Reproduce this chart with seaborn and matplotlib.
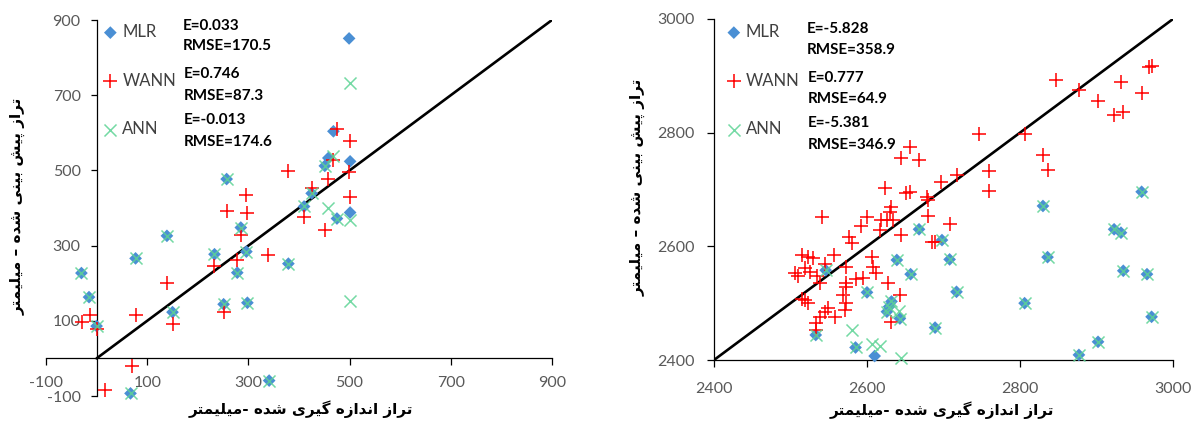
import matplotlib
matplotlib.use("Agg")
import matplotlib.pyplot as plt
import seaborn as sns
import pandas as pd

# ---------------- data ----------------
models = ["MLR", "WANN", "ANN"]

# left panel (measured, predicted)
left_mlr_x = [-30, -15, 0, 77, 139, 150, 257, 233, 251, 67, 278, 285, 296, 298, 341, 379, 410, 425, 451, 475,
              499, 468, 458, 501, 501]
left_mlr_y = [227, 163, 86, 266, 326, 123, 477, 277, 144, -93, 228, 348, 284, 148, -59, 252, 404, 439, 512, 372,
              851, 604, 533, 524, 388]
left_ann_x = [-30, -15, 0, 77, 139, 150, 257, 233, 251, 67, 278, 285, 296, 298, 341, 379, 410, 425, 451, 475,
              500, 468, 458, 501, 501]
left_ann_y = [227, 163, 86, 266, 326, 123, 477, 277, 144, -93, 228, 348, 284, 148, -59, 252, 404, 439, 512, 372,
              733, 539, 399, 368, 152]
left_wann_x = [-28, -14, 1, 77, 139, 150, 69, 16, 233, 257, 252, 277, 475, 501, 468, 498, 379, 458, 295, 425,
               501, 298, 410, 451, 285, 339]
left_wann_y = [97, 115, 79, 116, 201, 91, -19, -85, 247, 393, 123, 262, 610, 577, 528, 497, 499, 477, 435, 452,
               428, 388, 377, 341, 328, 275]

# right panel
right_mlr_x = [2959, 2830, 2923, 2932, 2698, 2708, 2836, 2935, 2966, 2717, 2806, 2972, 2902, 2877, 2668, 2639,
               2657, 2632, 2629, 2626, 2643, 2689, 2546, 2600, 2533, 2585, 2610]
right_mlr_y = [2696, 2671, 2630, 2624, 2611, 2577, 2581, 2557, 2551, 2520, 2500, 2476, 2432, 2409, 2630, 2576,
               2551, 2503, 2494, 2485, 2473, 2457, 2558, 2519, 2444, 2422, 2407]
right_ann_x = [2959, 2830, 2923, 2932, 2698, 2708, 2836, 2935, 2966, 2717, 2806, 2972, 2902, 2877, 2668, 2639,
               2657, 2632, 2629, 2626, 2643, 2689, 2546, 2600, 2533, 2585, 2580, 2607, 2617, 2644, 2642]
right_ann_y = [2696, 2671, 2630, 2624, 2611, 2577, 2581, 2557, 2551, 2520, 2500, 2476, 2432, 2409, 2630, 2576,
               2551, 2503, 2494, 2485, 2473, 2457, 2558, 2519, 2444, 2422, 2453, 2428, 2425, 2403, 2487]
right_wann_x = [2968, 2973, 2847, 2877, 2932, 2959, 2902, 2923, 2935, 2746, 2806, 2830, 2836, 2759, 2759, 2717,
                2697, 2708, 2680, 2645, 2685, 2689, 2628, 2643, 2632, 2656, 2644, 2668, 2624, 2656, 2651, 2678,
                2680, 2541, 2632, 2630, 2634, 2626, 2618, 2600, 2592, 2617, 2577, 2581, 2557, 2515, 2523, 2530,
                2545, 2573, 2606, 2608, 2612, 2506, 2510, 2519, 2525, 2534, 2539, 2572, 2573, 2585, 2595, 2515,
                2519, 2523, 2569, 2572, 2571, 2549, 2545, 2558, 2539, 2533, 2533]
right_wann_y = [2916, 2917, 2893, 2875, 2889, 2870, 2856, 2831, 2837, 2798, 2798, 2760, 2735, 2733, 2698, 2725,
                2714, 2640, 2653, 2620, 2608, 2608, 2535, 2514, 2467, 2775, 2755, 2752, 2702, 2696, 2693, 2687,
                2682, 2652, 2669, 2661, 2646, 2646, 2646, 2652, 2635, 2629, 2617, 2605, 2585, 2585, 2582, 2579,
                2569, 2563, 2581, 2564, 2553, 2553, 2547, 2561, 2555, 2547, 2536, 2536, 2529, 2542, 2544, 2508,
                2506, 2500, 2514, 2500, 2488, 2491, 2485, 2476, 2476, 2465, 2453]

left_stats_e = ["E=0.033", "E=0.746", "E=-0.013"]
left_stats_rmse = ["RMSE=170.5", "RMSE=87.3", "RMSE=174.6"]
right_stats_e = ["E=-5.828", "E=0.777", "E=-5.381"]
right_stats_rmse = ["RMSE=358.9", "RMSE=64.9", "RMSE=346.9"]

left_ticks = [-100, 100, 300, 500, 700, 900]
right_ticks = [2400, 2600, 2800, 3000]
left_line = [0, 900]
right_line = [2400, 3000]

ylabel_text = "تراز پیش بینی شده – میلیمتر"
xlabel_text = "تراز اندازه گیری شده -میلیمتر"

# ---------------- simple Arabic/Persian shaping ----------------
FORMS = {
    "\u0627": ("\uFE8D", "\uFE8E", None, None),
    "\u0628": ("\uFE8F", "\uFE90", "\uFE91", "\uFE92"),
    "\u062A": ("\uFE95", "\uFE96", "\uFE97", "\uFE98"),
    "\u062F": ("\uFEA9", "\uFEAA", None, None),
    "\u0631": ("\uFEAD", "\uFEAE", None, None),
    "\u0632": ("\uFEAF", "\uFEB0", None, None),
    "\u0634": ("\uFEB5", "\uFEB6", "\uFEB7", "\uFEB8"),
    "\u0644": ("\uFEDD", "\uFEDE", "\uFEDF", "\uFEE0"),
    "\u0645": ("\uFEE1", "\uFEE2", "\uFEE3", "\uFEE4"),
    "\u0646": ("\uFEE5", "\uFEE6", "\uFEE7", "\uFEE8"),
    "\u0647": ("\uFEE9", "\uFEEA", "\uFEEB", "\uFEEC"),
    "\u067E": ("\uFB56", "\uFB57", "\uFB58", "\uFB59"),
    "\u06AF": ("\uFB92", "\uFB93", "\uFB94", "\uFB95"),
    "\u06CC": ("\uFBFC", "\uFBFD", "\uFBFE", "\uFBFF"),
}


def shape(text):
    chars = list(text)
    out = []
    for i, c in enumerate(chars):
        if c not in FORMS:
            out.append(c)
            continue
        iso, fin, ini, med = FORMS[c]
        prev = chars[i - 1] if i > 0 else None
        nxt = chars[i + 1] if i + 1 < len(chars) else None
        jp = prev in FORMS and FORMS[prev][2] is not None
        jn = ini is not None and nxt in FORMS
        if jp and jn:
            out.append(med)
        elif jp:
            out.append(fin)
        elif jn:
            out.append(ini)
        else:
            out.append(iso)
    return "".join(reversed(out))


# ---------------- style ----------------
sns.set_theme(style="white")
plt.rcParams["font.family"] = ["Lato", "DejaVu Sans"]
plt.rcParams["axes.unicode_minus"] = False

W, H = 1193, 423
fig = plt.figure(figsize=(W / 100, H / 100), dpi=100)
fig.patch.set_facecolor("white")


def fx(px):
    return px / W


def fy(py):
    return 1 - py / H


colors = {"MLR": "#4A8FD4", "WANN": "#FF0000", "ANN": "#5CD394"}
tick_color = "#595959"


def draw_points(ax, mx, my, wx, wy, ax_x, ax_y):
    sns.scatterplot(x=mx, y=my, marker="D", color=colors["MLR"], s=42, edgecolor="none",
                    ax=ax, label="MLR", zorder=3, clip_on=False)
    sns.scatterplot(x=wx, y=wy, marker="+", color=colors["WANN"], s=90, linewidth=1.1,
                    ax=ax, label="WANN", zorder=4, clip_on=False)
    sns.scatterplot(x=ax_x, y=ax_y, marker="x", color=colors["ANN"], s=75, linewidth=1.1,
                    ax=ax, label="ANN", zorder=5, alpha=0.85, clip_on=False)


# ---------------- left panel ----------------
axL = fig.add_axes([fx(46), fy(396), fx(552) - fx(46), fy(20) - fy(396)])
draw_points(axL, left_mlr_x, left_mlr_y, left_wann_x, left_wann_y, left_ann_x, left_ann_y)
axL.plot(left_line, left_line, color="black", lw=1.9, zorder=2)
axL.set_xlim(-100, 900)
axL.set_ylim(-100, 900)
axL.set_xticks(left_ticks)
axL.set_yticks(left_ticks)
for s in ["top", "right"]:
    axL.spines[s].set_visible(False)
axL.spines["left"].set_position(("data", 0))
axL.spines["bottom"].set_position(("data", 0))
for s in ["left", "bottom"]:
    axL.spines[s].set_color("black")
    axL.spines[s].set_linewidth(0.9)
axL.tick_params(axis="y", direction="out", length=4.5, width=0.9, color="black",
                labelcolor=tick_color, labelsize=11.5, pad=7, left=True)
axL.tick_params(axis="x", direction="out", length=5, width=0.9, color="black",
                labelcolor=tick_color, labelsize=11.5, pad=8, bottom=True)
axL.set_xlabel("")
axL.set_ylabel("")

# ---------------- right panel ----------------
axR = fig.add_axes([fx(714), fy(360), fx(1173) - fx(714), fy(19) - fy(360)])
draw_points(axR, right_mlr_x, right_mlr_y, right_wann_x, right_wann_y, right_ann_x, right_ann_y)
axR.plot(right_line, right_line, color="black", lw=1.9, zorder=2)
axR.set_xlim(2400, 3000)
axR.set_ylim(2400, 3000)
axR.set_xticks(right_ticks)
axR.set_yticks(right_ticks)
for s in ["top", "right"]:
    axR.spines[s].set_visible(False)
for s in ["left", "bottom"]:
    axR.spines[s].set_color("black")
    axR.spines[s].set_linewidth(0.9)
axR.tick_params(axis="y", direction="out", length=5, width=0.9, color="black",
                labelcolor=tick_color, labelsize=11.5, pad=9, left=True)
axR.tick_params(axis="x", direction="out", length=5, width=0.9, color="black",
                labelcolor=tick_color, labelsize=11.5, pad=11, bottom=True)
axR.set_xlabel("")
axR.set_ylabel("")

# ---------------- legends ----------------
for ax, x0 in [(axL, 102), (axR, 725.5)]:
    ax.legend(loc="upper left", bbox_to_anchor=(fx(x0), fy(24)), bbox_transform=fig.transFigure,
              frameon=False, fontsize=12, handlelength=1.0, handletextpad=0.22,
              labelspacing=1.95, borderpad=0, borderaxespad=0, labelcolor="#404040")

# ---------------- stats text ----------------
left_pos = [(183, 26, 46), (184, 74, 96), (184, 120, 142)]
right_pos = [(807, 29, 50), (808, 78, 99), (808, 123, 145)]
for (x, ye, yr), e, r in zip(left_pos, left_stats_e, left_stats_rmse):
    fig.text(fx(x), fy(ye), e, fontsize=11, fontweight="bold", color="black", va="center", ha="left")
    fig.text(fx(x), fy(yr), r, fontsize=11, fontweight="bold", color="black", va="center", ha="left")
for (x, ye, yr), e, r in zip(right_pos, right_stats_e, right_stats_rmse):
    fig.text(fx(x), fy(ye), e, fontsize=11, fontweight="bold", color="black", va="center", ha="left")
    fig.text(fx(x), fy(yr), r, fontsize=11, fontweight="bold", color="black", va="center", ha="left")

# ---------------- axis labels ----------------
lab_kw = dict(fontsize=11, fontweight="bold", color="black", family=["DejaVu Sans"])
fig.text(fx(301), fy(409), shape(xlabel_text), ha="center", va="center", **lab_kw)
fig.text(fx(942), fy(410), shape(xlabel_text), ha="center", va="center", **lab_kw)
fig.text(fx(18), fy(206), shape(ylabel_text), ha="center", va="center", rotation=90, **lab_kw)
fig.text(fx(638), fy(187), shape(ylabel_text), ha="center", va="center", rotation=90, **lab_kw)

fig.savefig("out.png", dpi=100, facecolor="white")
